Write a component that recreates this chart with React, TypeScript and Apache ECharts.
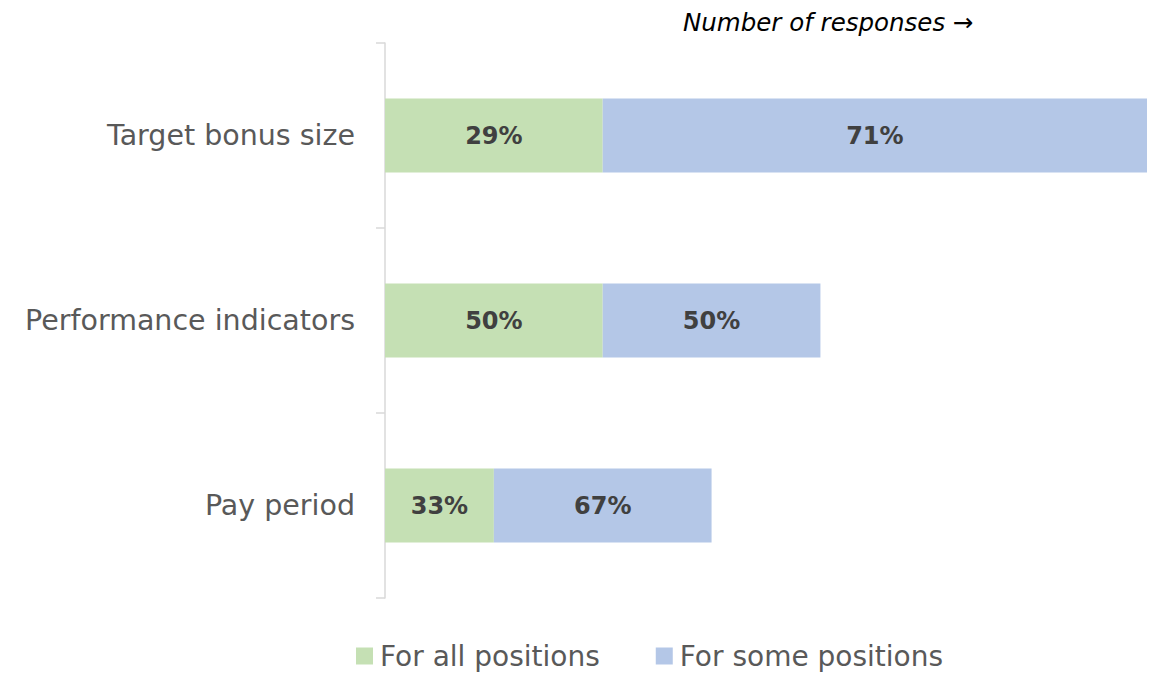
import React, { useEffect, useRef } from "react";
import * as echarts from "echarts";

const categories = ["Target bonus size", "Performance indicators", "Pay period"];
const forAll = [2, 2, 1];
const forSome = [5, 2, 2];
const seriesNames = ["For all positions", "For some positions"];
const colors = ["#C5E0B4", "#B4C7E7"];
const FONT = "'DejaVu Sans', sans-serif";

export default function App() {
  const ref = useRef<HTMLDivElement>(null);
  useEffect(() => {
    if (!ref.current) return;
    const chart = echarts.init(ref.current, null, { renderer: "svg" });
    const totals = forAll.map((v, i) => v + forSome[i]);
    const pct = (p: any) => Math.round((p.value / totals[p.dataIndex]) * 100) + "%";
    const labelStyle = { show: true, position: "inside", formatter: pct, fontFamily: FONT, fontSize: 24, fontWeight: "bold", color: "#404040" };
    chart.setOption({
      animation: false,
      textStyle: { fontFamily: FONT },
      title: {
        text: "Number of responses \u2192",
        left: 678,
        top: 5,
        textStyle: { fontFamily: FONT, fontStyle: "italic", fontWeight: "normal", fontSize: 24.5, color: "#000" },
      },
      legend: {
        top: 637,
        left: 351,
        itemWidth: 17,
        itemHeight: 17,
        itemGap: 56,
        icon: "rect",
        textStyle: { fontFamily: FONT, fontSize: 28, color: "#595959", padding: [0, 0, 0, 2] },
        data: seriesNames,
      },
      grid: { left: 385, right: 11, top: 43, bottom: 75, containLabel: false },
      xAxis: { type: "value", min: 0, max: 7, show: false },
      yAxis: {
        type: "category",
        data: categories,
        inverse: true,
        axisLine: { show: true, lineStyle: { color: "#D9D9D9", width: 1.5 } },
        axisTick: { show: true, length: 9, lineStyle: { color: "#D9D9D9", width: 1.5 } },
        axisLabel: { fontFamily: FONT, fontSize: 28.5, color: "#595959", margin: 30 },
        splitLine: { show: false },
      },
      series: [
        {
          name: seriesNames[0],
          type: "bar",
          stack: "total",
          data: forAll,
          barWidth: "40%",
          itemStyle: { color: colors[0] },
          label: labelStyle,
        },
        {
          name: seriesNames[1],
          type: "bar",
          stack: "total",
          data: forSome,
          barWidth: "40%",
          itemStyle: { color: colors[1] },
          label: labelStyle,
        },
      ],
    });
    return () => chart.dispose();
  }, []);
  return <div ref={ref} style={{ position: "absolute", left: 0, top: 0, width: 1158, height: 673 }} />;
}
